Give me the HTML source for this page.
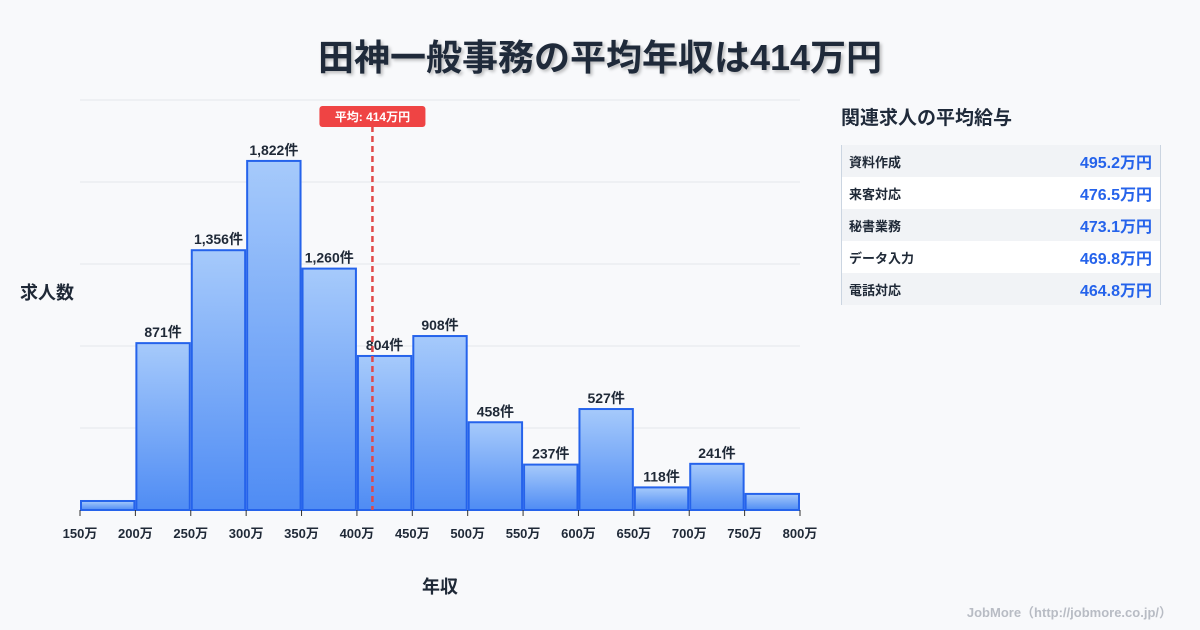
<!DOCTYPE html>
<html><head><meta charset="utf-8">
<style>
body{margin:0;width:1200px;height:630px;background:#f8f9fb;font-family:"Liberation Sans","Noto Sans CJK JP",sans-serif;overflow:hidden;position:relative;color:#1f2937}
#title{position:absolute;top:29px;left:0;width:1200px;text-align:center;font-size:36px;font-weight:bold;color:#1f2a3a;text-shadow:2px 2px 3px rgba(0,0,0,.25)}
#side-title{position:absolute;left:841px;top:103px;font-size:19px;font-weight:bold;color:#1f2a3a}
#side{position:absolute;left:841px;top:145px;width:318px;border-left:1px solid #cbd5e1;border-right:1px solid #cbd5e1}
.row{height:32px;display:flex;justify-content:space-between;align-items:center;padding:0 8px 0 7px}
.row:nth-child(odd){background:#f1f3f6}.row:nth-child(even){background:#fff}
.row .n{font-size:13px;font-weight:bold;color:#1f2937}
.row .v{font-size:16px;font-weight:bold;color:#2563eb}
#credit{position:absolute;right:28px;top:602px;font-size:13px;font-weight:bold;color:#b8bcc4}
</style></head><body>
<div id="title">田神一般事務の平均年収は414万円</div>
<div id="side-title">関連求人の平均給与</div>
<div id="side">
<div class="row"><span class="n">資料作成</span><span class="v">495.2万円</span></div>
<div class="row"><span class="n">来客対応</span><span class="v">476.5万円</span></div>
<div class="row"><span class="n">秘書業務</span><span class="v">473.1万円</span></div>
<div class="row"><span class="n">データ入力</span><span class="v">469.8万円</span></div>
<div class="row"><span class="n">電話対応</span><span class="v">464.8万円</span></div>
</div>
<div id="credit">JobMore（http://jobmore.co.jp/）</div>
<svg id="chart" width="1200" height="630" style="position:absolute;left:0;top:0">
<defs><linearGradient id="g" x1="0" y1="0" x2="0" y2="1"><stop offset="0" stop-color="#a6cafb"/><stop offset="1" stop-color="#4f8cf4"/></linearGradient></defs>
</svg>
<script>
const binEdges=[150,200,250,300,350,400,450,500,550,600,650,700,750,800];
const counts=[47,871,1356,1822,1260,804,908,458,237,527,118,241,84];
const showLabel=[false,true,true,true,true,true,true,true,true,true,true,true,false];
const avg=414;
const yMax=2140;
const NS="http://www.w3.org/2000/svg";
const svg=document.getElementById('chart');
const X0=80,X1=800,Y0=510,Y1=100;
const xs=v=>X0+(v-150)/(800-150)*(X1-X0);
const ys=v=>Y0-v/yMax*(Y0-Y1);
function mk(t,a,p){const e=document.createElementNS(NS,t);for(const k in a)e.setAttribute(k,a[k]);(p||svg).appendChild(e);return e;}
for(let i=0;i<=5;i++){const y=Y0-i*(Y0-Y1)/5;const l=mk('line',{x1:X0,x2:X1,y1:y,y2:y,stroke:'#e5e7eb','stroke-width':1});

}
counts.forEach((c,i)=>{const x=xs(binEdges[i])+1,w=xs(binEdges[i+1])-xs(binEdges[i])-2;const y=ys(c);
const r=mk('rect',{x:x,y:y,width:w,height:Y0-y,fill:'url(#g)',stroke:'#2563eb','stroke-width':2});


if(showLabel[i]){const t=mk('text',{x:x+w/2,y:y-6,'text-anchor':'middle','font-size':14,'font-weight':'bold',fill:'#1f2937'});t.textContent=c.toLocaleString('en-US')+'件';

}});
binEdges.forEach(v=>{const x=xs(v);const tk=mk('line',{x1:x,x2:x,y1:Y0,y2:Y0+6,stroke:'#333','stroke-width':1});


const t=mk('text',{x:x,y:Y0+28,'text-anchor':'middle','font-size':13,'font-weight':'bold',fill:'#1f2937'});t.textContent=v+'万';

});
const ax=xs(avg);
const al=mk('line',{x1:ax,x2:ax,y1:126,y2:Y0,stroke:'#e04848','stroke-width':2.5,'stroke-dasharray':'6,4'});


const bg=mk('rect',{x:ax-53,y:106,width:106,height:21,rx:3,fill:'#ef4444'});


const at=mk('text',{x:ax,y:121,'text-anchor':'middle','font-size':12,'font-weight':'bold',fill:'#fff'});at.textContent='平均: '+avg+'万円';


const yt=mk('text',{x:20,y:299,'font-size':18,'font-weight':'bold',fill:'#1f2937'});yt.textContent='求人数';


const xt=mk('text',{x:440,y:593,'text-anchor':'middle','font-size':18,'font-weight':'bold',fill:'#1f2937'});xt.textContent='年収';


</script>
</body></html>
